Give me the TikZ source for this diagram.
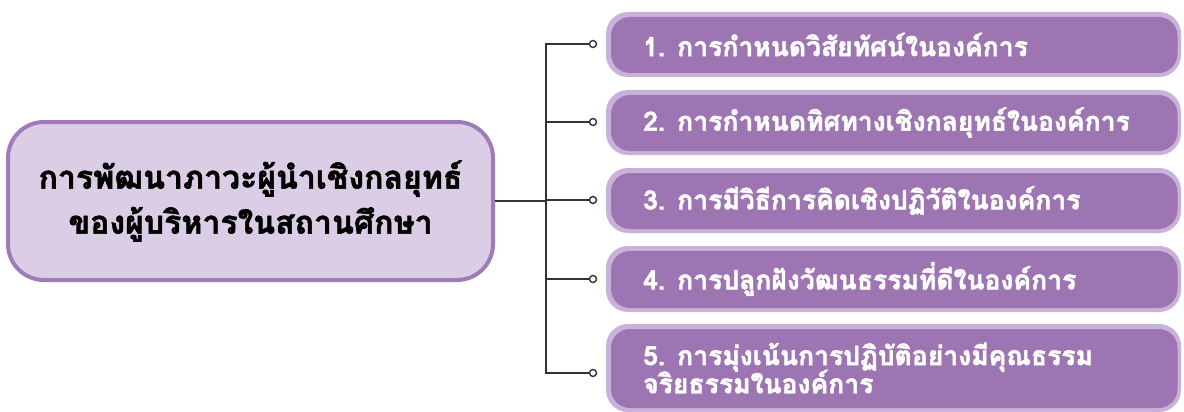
\documentclass[tikz,border=0pt]{standalone}
\usepackage{fontspec}
\newfontfamily\thaifont[Script=Thai,BoldFeatures={FakeBold=1.8}]{Loma}
\definecolor{boxdark}{HTML}{9D75B3}
\definecolor{boxlight}{HTML}{C9B2D9}
\definecolor{centfill}{HTML}{DCCDE6}
\definecolor{centline}{HTML}{9F7BB8}
\definecolor{conn}{HTML}{333333}
\tikzset{
  outerbox/.style={fill=boxlight, rounded corners=22pt, draw=none},
  innerbox/.style={fill=boxdark, rounded corners=19pt},
  boxtext/.style={anchor=west, text=white, font=\thaifont\bfseries\fontsize{26.5}{26}\selectfont, inner sep=0pt, align=left},
  dot/.style={circle, draw=conn, fill=white, line width=1.4pt, minimum size=7pt, inner sep=0pt},
  conline/.style={draw=conn, line width=1.6pt},
}
\begin{document}
\begin{tikzpicture}[x=1pt,y=-1pt]
\useasboundingbox[fill=white] (0,0) rectangle (1184,412);
% center box
\node[draw=centline, fill=centfill, line width=4pt, rounded corners=36pt, minimum width=485pt, minimum height=158pt, align=center, font=\thaifont\bfseries\fontsize{32}{45}\selectfont, text=black] (c) at (250.5,201) {การพัฒนาภาวะผู้นำเชิงกลยุทธ์\\ของผู้บริหารในสถานศึกษา};
% junction coordinates
\coordinate (j1) at (546,44);
\coordinate (j5) at (546,373);
% dots
\node[dot] (d1) at (593,44) {};
\node[dot] (d2) at (593,122) {};
\node[dot] (d3) at (593,200) {};
\node[dot] (d4) at (593,279) {};
\node[dot] (d5) at (593,373) {};
% connectors
\draw[conline] (d1.west) -- (j1) -- (j5) -- (d5.west);
\draw[conline] (d2.west) -- (d2.west -| j1);
\draw[conline] (d3.west) -- (d3.west -| j1);
\draw[conline] (d4.west) -- (d4.west -| j1);
\draw[conline] (c.east) -- (c.east -| j1);
% boxes
\foreach \n/\ya/\yb in {1/12/77, 2/90/155, 3/168/233, 4/246/312, 5/324/412}{
  \fill[outerbox] (606,\ya) rectangle (1181,\yb);
  \fill[innerbox] (611,\ya+5) rectangle (1177.5,\yb-4);
  \coordinate (b\n) at (643,{(\ya+\yb)/2});
}
\node[boxtext] (t1) at (b1) {1. การกำหนดวิสัยทัศน์ในองค์การ};
\node[boxtext] (t2) at (b2) {2. การกำหนดทิศทางเชิงกลยุทธ์ในองค์การ};
\node[boxtext] (t3) at (b3) {3. การมีวิธีการคิดเชิงปฏิวัติในองค์การ};
\node[boxtext] (t4) at (b4) {4. การปลูกฝังวัฒนธรรมที่ดีในองค์การ};
\node[boxtext] (t5) at (b5) {5. การมุ่งเน้นการปฏิบัติอย่างมีคุณธรรม\\[-3pt]จริยธรรมในองค์การ};
\end{tikzpicture}
\end{document}
